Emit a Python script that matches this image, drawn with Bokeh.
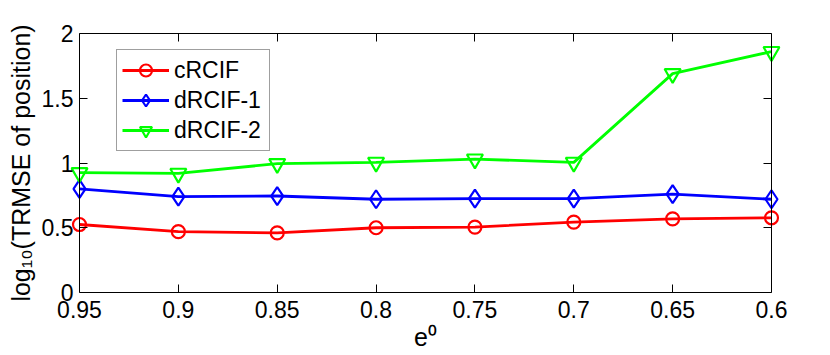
from bokeh.plotting import figure
from bokeh.models import Range1d, LinearAxis, FixedTicker, Legend
from bokeh.embed import file_html
from bokeh.resources import INLINE

# data
e0 = [0.95, 0.9, 0.85, 0.8, 0.75, 0.7, 0.65, 0.6]
crcif = [0.525, 0.47, 0.46, 0.50, 0.505, 0.543, 0.569, 0.577]
drcif1 = [0.80, 0.74, 0.745, 0.72, 0.725, 0.725, 0.76, 0.72]
drcif2 = [0.925, 0.92, 0.995, 1.005, 1.03, 1.005, 1.69, 1.86]
x_tick_labels = ["0.95", "0.9", "0.85", "0.8", "0.75", "0.7", "0.65", "0.6"]
y_ticks = [0, 0.5, 1, 1.5, 2]
y_tick_labels = ["0", "0.5", "1", "1.5", "2"]

X_LO, X_HI = 0.6, 0.95
Y_LO, Y_HI = 0, 2

FONT = "Liberation Sans"
TICK_FS = "23px"
LABEL_FS = "25px"

# extra room so the end markers are not cut off by the frame
PAD_PX = 9
FRAME_W = 692 + 2 * PAD_PX
pad = (X_HI - X_LO) * PAD_PX / 692.0

p = figure(frame_width=FRAME_W, frame_height=259,
           x_range=Range1d(X_HI + pad, X_LO - pad), y_range=Range1d(Y_LO, Y_HI),
           output_backend="svg", toolbar_location=None,
           min_border_left=79 - PAD_PX, min_border_right=51 - PAD_PX,
           min_border_top=33, min_border_bottom=55)
p.xgrid.visible = False
p.ygrid.visible = False
p.outline_line_color = None
p.background_fill_color = "white"
p.border_fill_color = "white"

xt = FixedTicker(ticks=e0)
yt = FixedTicker(ticks=y_ticks)

def style(ax):
    ax.major_tick_in = 8
    ax.major_tick_out = 0
    ax.minor_tick_line_color = None
    ax.axis_line_color = "#000000"
    ax.axis_line_width = 1
    ax.major_tick_line_color = "#000000"
    ax.major_label_text_font = FONT
    ax.major_label_text_font_size = TICK_FS
    ax.major_label_text_color = "#000000"
    ax.axis_label_text_font = FONT
    ax.axis_label_text_font_size = LABEL_FS
    ax.axis_label_text_font_style = "normal"
    ax.axis_label_text_color = "#000000"

# bottom axis: box line, inward ticks and labels (frame bottom is exactly y=0)
xa = p.xaxis[0]
xa.ticker = xt
xa.major_label_overrides = {v: s for v, s in zip(e0, x_tick_labels)}
xa.axis_label = "e\u2070"
style(xa)
xa.bounds = (X_LO, X_HI)
xa.major_label_standoff = 8
xa.axis_label_standoff = 2

# left axis in the side panel: labels only
ya = p.yaxis[0]
ya.ticker = yt
ya.major_label_overrides = {v: s for v, s in zip(y_ticks, y_tick_labels)}
ya.axis_label = "log\u2081\u2080(TRMSE of position)"
style(ya)
ya.axis_line_color = None
ya.major_tick_line_color = None
ya.major_tick_in = 0
ya.major_label_standoff = 6 - PAD_PX
ya.axis_label_standoff = 4

# top axis (frame top is exactly y=2)
top = LinearAxis(ticker=xt, major_label_overrides={v: "" for v in e0}, bounds=(X_LO, X_HI))
style(top)
p.add_layout(top, "above")

# left and right box lines with inward ticks, at x = 0.95 and x = 0.6
for loc, side in ((X_HI, "left"), (X_LO, "right")):
    ax = LinearAxis(ticker=yt, major_label_overrides={v: "" for v in y_ticks},
                    fixed_location=loc, bounds=(Y_LO, Y_HI))
    style(ax)
    p.add_layout(ax, side)

series = [("cRCIF", crcif, "#ff0000", "circle", 13),
          ("dRCIF-1", drcif1, "#0000ff", "diamond", 18),
          ("dRCIF-2", drcif2, "#00ff00", "inverted_triangle", 16)]
items = []
for name, ys, col, mk, sz in series:
    ln = p.line(e0, ys, line_color=col, line_width=2.8)
    sc = p.scatter(e0, ys, marker=mk, size=sz, line_color=col, fill_color=None, line_width=2.2)
    items.append((name, [ln, sc]))

legend = Legend(items=items, location=(116 - (79 - PAD_PX), 141))
legend.label_text_font = FONT
legend.label_text_font_size = TICK_FS
legend.label_text_color = "#000000"
legend.glyph_width = 47
legend.glyph_height = 30
legend.label_height = 30
legend.label_width = 90
legend.label_standoff = 5
legend.padding = 5
legend.spacing = 0
legend.margin = 0
legend.border_line_color = "#404040"
legend.border_line_width = 1
legend.background_fill_color = "white"
legend.background_fill_alpha = 1
p.add_layout(legend)

open("out.html", "w").write(file_html(p, INLINE))
